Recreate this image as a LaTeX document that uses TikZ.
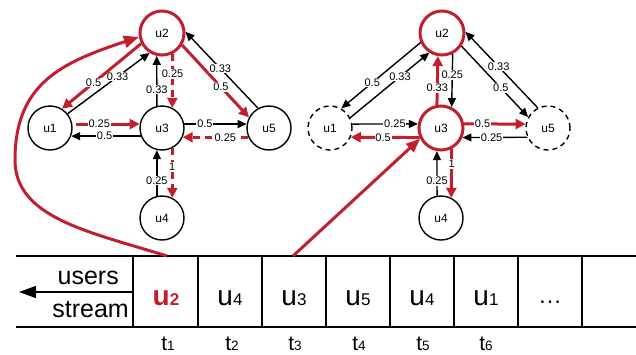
\documentclass[tikz,border=0pt]{standalone}
\usepackage{fontspec}
\setmainfont{Liberation Sans}
\usetikzlibrary{arrows.meta}
\definecolor{myred}{RGB}{194,31,46}
\begin{document}
\begin{tikzpicture}[x=1pt,y=-1pt,
 gnode/.style={circle,draw,line width=1.4pt,minimum size=44pt,inner sep=0pt,font=\fontsize{12}{12}\selectfont},
 rnode/.style={gnode,draw=myred,line width=3pt},
 dnode/.style={gnode,dash pattern=on 5pt off 4pt},
 bedge/.style={line width=1.4pt,-{Triangle[length=9pt,width=8pt]}},
 redge/.style={line width=3pt,draw=myred,-{Triangle[length=10pt,width=10pt]}},
 rdedge/.style={redge,dash pattern=on 7pt off 5pt},
 elab/.style={font=\fontsize{11}{11}\selectfont,fill=white,inner sep=0.8pt,text=black},
 sline/.style={line width=1.4pt},
 cellu/.style={anchor=base},
 tlab/.style={anchor=base}
]
\useasboundingbox (0,0) rectangle (636,354);
% ---- left graph
\node[gnode] (a1) at (50,128) {u1};
\node[rnode] (a2) at (162,33) {u2};
\node[gnode] (a3) at (162,128) {u3};
\node[gnode] (a4) at (162,218) {u4};
\node[gnode] (a5) at (269,128) {u5};
\draw[bedge] (a1.39) -- node[elab,pos=0.61]{0.33} (a2.238);
\draw[redge] (a2.207) -- node[elab,pos=0.6]{0.5} (a1.58);
\draw[bedge] (a3.103) -- node[elab,pos=0.33]{0.33} (a2.257);
\draw[rdedge] (a2.297) -- node[elab,pos=0.37]{0.25} (a3.63);
\draw[redge] (a2.-31) -- node[elab,pos=0.58]{0.5} (a5.152);
\draw[bedge] (a5.119) -- node[elab,pos=0.52]{0.33} (a2.3);
\draw[redge,shorten <=4pt] (a1.10) -- node[elab,pos=0.4]{0.25} (a3.170);
\draw[bedge] (a3.201) -- node[elab,pos=0.52]{0.5} (a1.-21);
\draw[bedge] (a3.10) -- node[elab,pos=0.33]{0.5} (a5.170);
\draw[rdedge] (a5.204) -- node[elab,pos=0.35]{0.25} (a3.-24);
\draw[bedge] (a4.103) -- node[elab,pos=0.33]{0.25} (a3.257);
\draw[rdedge] (a3.-63) -- node[elab,pos=0.38]{1} (a4.63);
% ---- right graph
\node[dnode] (b1) at (330,128) {u1};
\node[rnode] (b2) at (442,33) {u2};
\node[rnode] (b3) at (441,128) {u3};
\node[gnode] (b4) at (441,218) {u4};
\node[dnode] (b5) at (548,128) {u5};
\draw[bedge] (b2.204) -- node[elab,pos=0.61]{0.5} (b1.60);
\draw[bedge] (b1.27) -- node[elab,pos=0.63]{0.33} (b2.237);
\draw[redge] (b3.100) -- node[elab,pos=0.35]{0.33} (b2.260);
\draw[bedge] (b2.-63) -- node[elab,pos=0.4]{0.25} (b3.63);
\draw[bedge] (b2.-34) -- node[elab,pos=0.59]{0.5} (b5.151);
\draw[bedge] (b5.117) -- node[elab,pos=0.54]{0.33} (b2.3);
\draw[bedge] (b1.10) -- node[elab,pos=0.65]{0.25} (b3.170);
\draw[redge] (b3.-156) -- node[elab,pos=0.53]{0.5} (b1.-24);
\draw[redge] (b3.10) -- node[elab,pos=0.3]{0.5} (b5.170);
\draw[bedge] (b5.204) -- node[elab,pos=0.55]{0.25} (b3.-24);
\draw[bedge] (b4.100) -- node[elab,pos=0.33]{0.25} (b3.260);
\draw[redge] (b3.-63) -- node[elab,pos=0.31]{1} (b4.63);
% ---- stream
\draw[sline] (16,256) -- (636,256);
\draw[sline] (16,327) -- (636,327);
\foreach \x in {133,198,262,326,390,454,518,582}
  \draw[sline] (\x,256) -- (\x,327);
\coordinate (ar0) at (133,292);
\coordinate (ar1) at (19,292);
\draw[sline,-{Triangle[length=17pt,width=12pt]}] (ar0) -- (ar1);
\node[anchor=base east,inner sep=0pt,font=\fontsize{25}{25}\selectfont] (users) at (119,284) {users};
\node[anchor=base east,inner sep=0pt,font=\fontsize{25}{25}\selectfont] (stream) at (129,317) {stream};
\newcommand{\cellux}[1]{{\fontsize{28}{28}\selectfont u}{\fontsize{17}{17}\selectfont #1}}
\node[cellu,text=myred,font=\bfseries] (c1) at (166,305) {\cellux{2}};
\node[cellu] (c2) at (230,305) {\cellux{4}};
\node[cellu] (c3) at (294,305) {\cellux{3}};
\node[cellu] (c4) at (358,305) {\cellux{5}};
\node[cellu] (c5) at (422,305) {\cellux{4}};
\node[cellu] (c6) at (486,305) {\cellux{1}};
\node[cellu,font=\fontsize{24}{24}\selectfont] (c7) at (550,303) {\dots};
\newcommand{\tsub}[1]{{\fontsize{21}{21}\selectfont t}{\fontsize{13.5}{13.5}\selectfont #1}}
\node[tlab] (t1) at (168,350) {\tsub{1}};
\node[tlab] (t2) at (232,350) {\tsub{2}};
\node[tlab] (t3) at (295,350) {\tsub{3}};
\node[tlab] (t4) at (359,350) {\tsub{4}};
\node[tlab] (t5) at (423,350) {\tsub{5}};
\node[tlab] (t6) at (486,350) {\tsub{6}};
% ---- red links from stream
\coordinate (s1) at (167,256);
\coordinate (s3) at (293,256);
\draw[redge,-{Triangle[length=15pt,width=12pt]}] (s1) .. controls (90,232) and (15,218) .. (15,160) .. controls (15,84) and (61,62.6) .. (a2.190);
\draw[redge,-{Triangle[length=14pt,width=11pt]}] (s3) -- (b3.207);
\end{tikzpicture}
\end{document}
